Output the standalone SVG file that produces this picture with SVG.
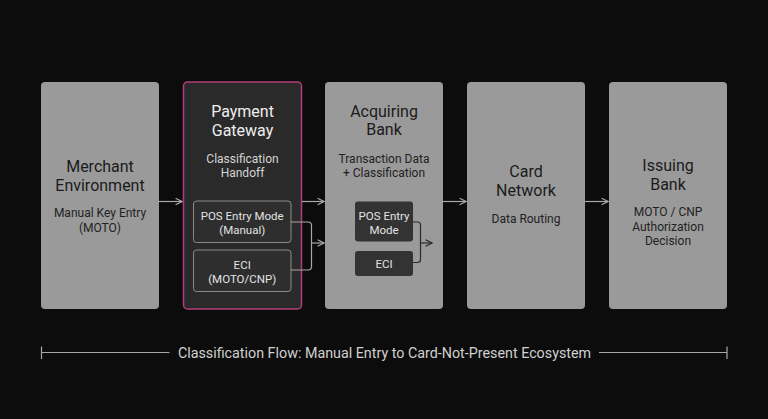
<svg xmlns="http://www.w3.org/2000/svg" width="768" height="419" viewBox="0 0 768 419">
<defs>
<style>
.bg{fill:#0c0c0c}
.gbox{fill:#9a9a9a}
.dbox{fill:#2a2a2a;stroke:#b23d7a;stroke-width:1.5}
.ibox{fill:#2e2e2e;stroke:#8a8a8a;stroke-width:1}
.abox{fill:#333333}
text{font-family:Roboto,"Liberation Sans",sans-serif;text-anchor:middle}
.t{font-size:16px;fill:#1a1a1a}
.s{font-size:12px;fill:#222222}
.tw{font-size:16px;fill:#efefef}
.sw{font-size:12px;fill:#d4d4d4}
.iw{font-size:11.5px;fill:#e2e2e2}
.conn{fill:none;stroke:#a8a8a8;stroke-width:1.2}
.conn2{fill:none;stroke:#2a2a2a;stroke-width:1.2}
.foot{font-size:14.3px;fill:#d0d0d0}
</style>
<marker id="ah" viewBox="0 0 10 10" refX="9" refY="5" markerWidth="8" markerHeight="8" markerUnits="userSpaceOnUse" orient="auto">
<path d="M1,1 L9,5 L1,9" fill="none" stroke="#a8a8a8" stroke-width="1.5"/>
</marker>
<marker id="ah2" viewBox="0 0 10 10" refX="9" refY="5" markerWidth="8" markerHeight="8" markerUnits="userSpaceOnUse" orient="auto">
<path d="M1,1 L9,5 L1,9" fill="none" stroke="#2a2a2a" stroke-width="1.5"/>
</marker>
</defs>
<rect class="bg" x="0" y="0" width="768" height="419"/>

<g id="merchant">
<rect class="gbox" x="41" y="82" width="118" height="227" rx="4"/>
<text class="t" x="100" y="172">Merchant</text>
<text class="t" x="100" y="191">Environment</text>
<text class="s" x="100" y="217">Manual Key Entry</text>
<text class="s" x="100" y="232">(MOTO)</text>
</g>

<g id="gateway">
<rect class="dbox" x="183.5" y="82" width="118" height="227" rx="4"/>
<text class="tw" x="242.5" y="117">Payment</text>
<text class="tw" x="242.5" y="136">Gateway</text>
<text class="sw" x="242.5" y="163">Classification</text>
<text class="sw" x="242.5" y="177">Handoff</text>
<g id="gw-pos">
<rect class="ibox" x="193.5" y="201" width="97.5" height="41.5" rx="3"/>
<text class="iw" x="242.2" y="220">POS Entry Mode</text>
<text class="iw" x="242.2" y="234">(Manual)</text>
</g>
<g id="gw-eci">
<rect class="ibox" x="193.5" y="250" width="97.5" height="41.5" rx="3"/>
<text class="iw" x="242.2" y="268.5">ECI</text>
<text class="iw" x="242.2" y="283">(MOTO/CNP)</text>
</g>
</g>

<g id="acquiring">
<rect class="gbox" x="325" y="82" width="118" height="227" rx="4"/>
<text class="t" x="384" y="117">Acquiring</text>
<text class="t" x="384" y="135">Bank</text>
<text class="s" x="384" y="163">Transaction Data</text>
<text class="s" x="384" y="177">+ Classification</text>
<g id="aq-pos">
<rect class="abox" x="355" y="201.5" width="58" height="40" rx="3"/>
<text class="iw" x="384" y="220">POS Entry</text>
<text class="iw" x="384" y="234">Mode</text>
</g>
<g id="aq-eci">
<rect class="abox" x="355" y="251" width="58" height="25" rx="3"/>
<text class="iw" x="384" y="268">ECI</text>
</g>
</g>

<g id="network">
<rect class="gbox" x="467" y="82" width="118" height="227" rx="4"/>
<text class="t" x="526" y="177">Card</text>
<text class="t" x="526" y="196">Network</text>
<text class="s" x="526" y="223">Data Routing</text>
</g>

<g id="issuing">
<rect class="gbox" x="609" y="82" width="118" height="227" rx="4"/>
<text class="t" x="668" y="171">Issuing</text>
<text class="t" x="668" y="189.5">Bank</text>
<text class="s" x="668" y="216">MOTO / CNP</text>
<text class="s" x="668" y="230.5">Authorization</text>
<text class="s" x="668" y="244.5">Decision</text>
</g>

<g id="connectors">
<line class="conn" x1="159" y1="201.5" x2="182" y2="201.5" marker-end="url(#ah)"/>
<line class="conn" x1="302" y1="201.5" x2="324" y2="201.5" marker-end="url(#ah)"/>
<line class="conn" x1="443" y1="201.5" x2="466" y2="201.5" marker-end="url(#ah)"/>
<line class="conn" x1="585" y1="201.5" x2="608" y2="201.5" marker-end="url(#ah)"/>
<path class="conn" d="M291,222 H308 Q311.5,222 311.5,225.5 V266.5 Q311.5,270 308,270 H291"/>
<line class="conn" x1="311.5" y1="243" x2="324" y2="243" marker-end="url(#ah)"/>
<path class="conn2" d="M413,222 H417.5 Q420.5,222 420.5,225 V259.5 Q420.5,262.5 417.5,262.5 H413"/>
<line class="conn2" x1="420.5" y1="243" x2="432" y2="243" marker-end="url(#ah2)"/>
</g>

<g id="footer">
<line class="conn" x1="41.5" y1="352.5" x2="169.5" y2="352.5"/>
<line class="conn" x1="41.5" y1="346.5" x2="41.5" y2="359"/>
<line class="conn" x1="599" y1="352.5" x2="727" y2="352.5"/>
<line class="conn" x1="727" y1="346.5" x2="727" y2="359"/>
<text class="foot" x="384.5" y="358">Classification Flow: Manual Entry to Card-Not-Present Ecosystem</text>
</g>
</svg>
